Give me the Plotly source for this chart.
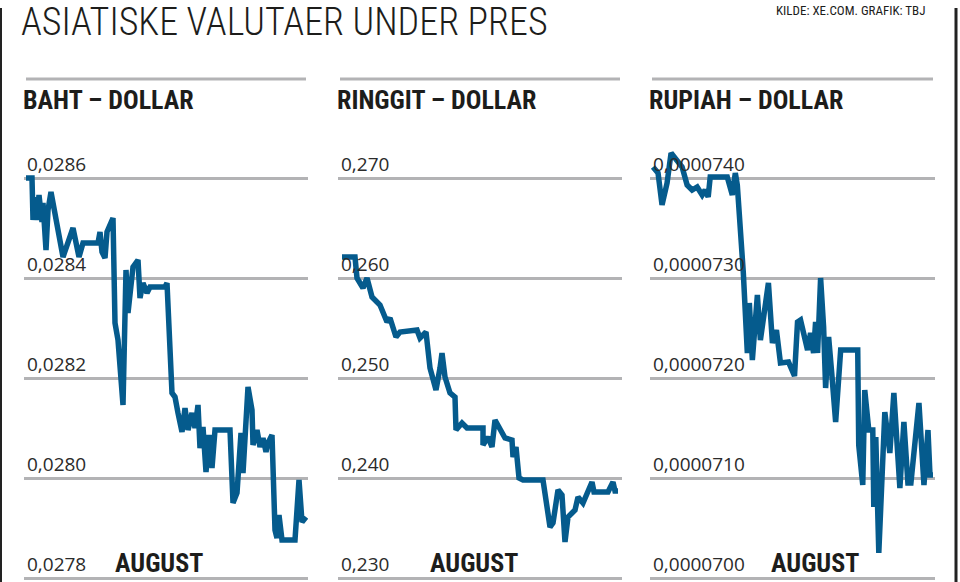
import plotly.graph_objects as go

# Baht per dollar
baht_t = [0, 6, 7, 10, 11, 13, 16, 17, 20, 22, 25, 31, 37, 47, 53, 57, 72, 74, 76, 79, 81, 87,
          89, 92, 97, 100, 102, 107, 112, 114, 117, 121, 124, 139, 141, 146, 149, 152, 156, 159,
          162, 166, 169, 172, 174, 177, 180, 183, 186, 189, 204, 207, 211, 215, 217, 222, 226,
          227, 231, 234, 237, 240, 242, 246, 249, 251, 253, 256, 269, 273, 276, 280]
baht = [0.02860, 0.02860, 0.028516, 0.028562, 0.028516, 0.028566, 0.028512, 0.028550, 0.028456,
        0.028536, 0.028572, 0.028502, 0.028442, 0.028500, 0.028442, 0.028470, 0.028470, 0.028492,
        0.028452, 0.028440, 0.028492, 0.028520, 0.028310, 0.028276, 0.028146, 0.028416, 0.028330,
        0.028422, 0.028436, 0.028360, 0.028390, 0.028370, 0.028382, 0.028382, 0.028390, 0.028170,
        0.028162, 0.028130, 0.028092, 0.028140, 0.028096, 0.028130, 0.028100, 0.028146, 0.028060,
        0.028102, 0.028012, 0.028086, 0.028020, 0.028096, 0.028096, 0.027950, 0.027970, 0.028090,
        0.028010, 0.028182, 0.028136, 0.028066, 0.028096, 0.028062, 0.028080, 0.028052, 0.028070,
        0.028086, 0.027896, 0.027880, 0.027926, 0.027876, 0.027876, 0.027996, 0.027912, 0.027922]

# Ringgit per dollar
ringgit_t = [2, 15, 17, 23, 27, 32, 40, 47, 50, 56, 60, 77, 80, 86, 90, 96, 100, 102, 105, 110,
             115, 116, 122, 127, 143, 143, 148, 152, 155, 165, 172, 173, 176, 179, 183, 203, 210,
             213, 218, 222, 225, 228, 235, 238, 243, 252, 254, 268, 273, 275, 278]
ringgit = [0.2621, 0.2621, 0.2600, 0.2590, 0.2600, 0.2581, 0.2573, 0.2556, 0.2560, 0.2541, 0.2546,
           0.2548, 0.2540, 0.2546, 0.2510, 0.2488, 0.2510, 0.2525, 0.2501, 0.2485, 0.2481, 0.2448,
           0.2455, 0.2450, 0.2450, 0.2433, 0.2441, 0.2431, 0.2458, 0.2440, 0.2438, 0.2421, 0.2431,
           0.2400, 0.2398, 0.2398, 0.2351, 0.2355, 0.2388, 0.2383, 0.2336, 0.2361, 0.2368, 0.2381,
           0.2375, 0.2396, 0.2386, 0.2386, 0.2396, 0.2387, 0.2387]

# Rupiah per dollar
rupiah_t = [1, 6, 10, 15, 19, 25, 30, 35, 40, 45, 50, 53, 56, 58, 75, 80, 83, 85, 88, 91, 95, 97,
            100, 105, 108, 116, 120, 124, 128, 136, 142, 145, 148, 155, 158, 161, 163, 165, 168,
            171, 173, 176, 179, 183, 188, 205, 206, 210, 212, 216, 220, 221, 223, 226, 232, 237,
            241, 247, 251, 255, 258, 266, 271, 275, 277, 280]
rupiah = [0.00007411, 0.00007405, 0.00007373, 0.00007395, 0.00007425, 0.00007418, 0.00007411,
          0.00007393, 0.00007388, 0.00007391, 0.00007383, 0.00007388, 0.00007381, 0.00007401,
          0.00007401, 0.00007383, 0.00007405, 0.00007393, 0.00007355, 0.00007305, 0.00007225,
          0.00007275, 0.00007218, 0.00007283, 0.00007238, 0.00007295, 0.00007235, 0.00007248,
          0.00007215, 0.00007216, 0.00007202, 0.00007256, 0.00007258, 0.00007228, 0.00007245,
          0.00007225, 0.00007256, 0.00007225, 0.00007300, 0.00007251, 0.00007190, 0.00007241,
          0.00007206, 0.00007156, 0.00007228, 0.00007228, 0.00007133, 0.00007093, 0.00007188,
          0.00007148, 0.00007148, 0.00007071, 0.00007141, 0.00007025, 0.00007166, 0.00007125,
          0.00007185, 0.00007090, 0.00007156, 0.00007095, 0.00007095, 0.00007175, 0.00007093,
          0.00007148, 0.00007103, 0.00007103]

baht_ticks = [0.0278, 0.0280, 0.0282, 0.0284, 0.0286]
ringgit_ticks = [0.230, 0.240, 0.250, 0.260, 0.270]
rupiah_ticks = [0.0000700, 0.0000710, 0.0000720, 0.0000730, 0.0000740]

titles = ["BAHT – DOLLAR", "RINGGIT – DOLLAR", "RUPIAH – DOLLAR"]
august_t = [89, 90, 119]

BLUE = "#055b8d"
GRID = "#b3b3b5"
INK = "#1d1d1b"
NARROW = "Liberation Sans Narrow, Roboto Condensed, DejaVu Sans Condensed, Roboto, sans-serif"
LABEL = "Open Sans, Noto Sans, sans-serif"

# pixel layout of the three panels (left, right)
panels = [(26, 306), (340, 620), (652, 933)]
W, H = 960, 582
ytop_px = 130  # top of plotting area, bottom is page bottom

series = [(baht_t, baht, baht_ticks, ".4f"),
          (ringgit_t, ringgit, ringgit_ticks, ".3f"),
          (rupiah_t, rupiah, rupiah_ticks, ".7f")]

fig = go.Figure()
layout = {}
for i, ((t, v, ticks, fmt), (x0, x1)) in enumerate(zip(series, panels)):
    n = "" if i == 0 else str(i + 1)
    fig.add_trace(go.Scatter(x=t, y=v, mode="lines", xaxis="x" + n, yaxis="y" + n,
                             line=dict(color=BLUE, width=5.5, shape="linear"),
                             hoverinfo="skip", showlegend=False))
    # gridlines at 178px (top tick) and 578px (bottom tick)
    step = (ticks[-1] - ticks[0]) / 400.0
    lo = ticks[0] - (H - 578) * step
    hi = ticks[-1] + (178 - ytop_px) * step
    layout["xaxis" + n] = dict(domain=[(x0 - 2) / W, (x1 + 2) / W], range=[-2, 282],
                               visible=False, anchor="y" + n)
    layout["yaxis" + n] = dict(domain=[0, (H - ytop_px) / H], range=[lo, hi],
                               anchor="x" + n, tickvals=ticks, tickformat=fmt,
                               showgrid=True, gridcolor=GRID, gridwidth=3, zeroline=False,
                               showline=False, ticks="", ticklabelposition="inside top",
                               ticklabelstandoff=0,
                               tickfont=dict(family=LABEL, size=19, color="#2b2b2b"))
    fig.add_shape(type="line", xref="x" + n + " domain", yref="paper",
                  x0=2 / (x1 - x0 + 4), x1=1 - 2 / (x1 - x0 + 4),
                  y0=(H - 79) / H, y1=(H - 79) / H, line=dict(color=GRID, width=3))
    fig.add_annotation(text=titles[i], xref="x" + n + " domain", yref="paper",
                       x=-0.01, y=(H - 100) / H, xanchor="left", yanchor="middle",
                       showarrow=False,
                       font=dict(family=NARROW, size=26, color=INK, weight="bold"))
    fig.add_annotation(text="AUGUST", xref="x" + n, yref="paper", x=august_t[i] - 2,
                       y=(H - 563) / H, xanchor="left", yanchor="middle", showarrow=False,
                       font=dict(family=NARROW, size=26, color=INK, weight="bold"))

fig.add_annotation(text="ASIATISKE VALUTAER UNDER PRES", xref="paper", yref="paper",
                   x=19 / W, y=1 + 2 / H, xanchor="left", yanchor="top", showarrow=False,
                   font=dict(family=NARROW, size=38, color=INK, weight=300))
fig.add_annotation(text="KILDE: XE.COM. GRAFIK: TBJ", xref="paper", yref="paper",
                   x=927 / W, y=1 - 1 / H, xanchor="right", yanchor="top", showarrow=False,
                   font=dict(family=NARROW, size=13, color=INK))

# frame lines at the left and right edges
fig.add_shape(type="line", xref="paper", yref="paper", x0=1 / W, x1=1 / W, y0=0,
              y1=1 - 8 / H, line=dict(color="#222", width=2))
fig.add_shape(type="line", xref="paper", yref="paper", x0=956 / W, x1=956 / W, y0=0,
              y1=1 - 8 / H, line=dict(color="#222", width=3))

fig.update_layout(width=W, height=H, margin=dict(l=0, r=0, t=0, b=0),
                  paper_bgcolor="white", plot_bgcolor="white", separators=", ",
                  **layout)

fig.write_html("out.html", config={"displayModeBar": False},
               post_script="document.body.style.margin='0';document.body.style.overflow='hidden';")
